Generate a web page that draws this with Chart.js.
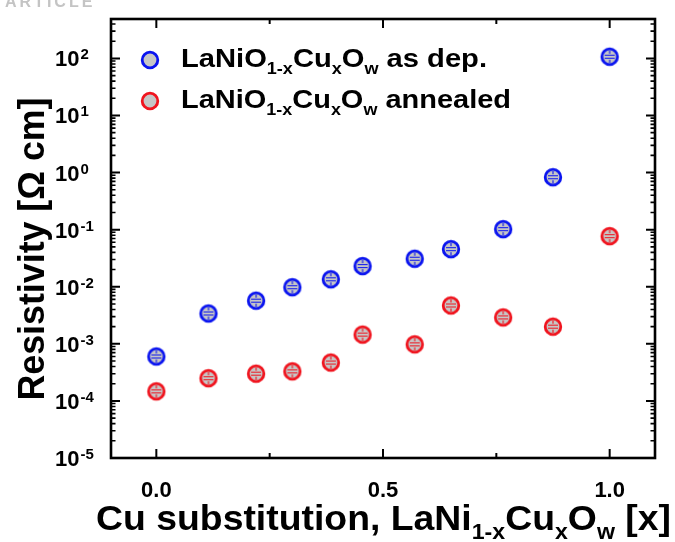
<!DOCTYPE html>
<html><head><meta charset="utf-8">
<script src="https://cdn.jsdelivr.net/npm/chart.js@4/dist/chart.umd.min.js"></script>
<style>html,body{margin:0;padding:0;background:#fff;}#wrap{width:675px;height:542px;position:relative;}</style>
</head><body><div id="wrap"><canvas id="c" width="675" height="542"></canvas></div>
<script>
// ---- data ----
const cuFraction      = [0, 0.115, 0.22, 0.30, 0.385, 0.455, 0.57, 0.65, 0.765, 0.875, 1.0];
const rhoAsDeposited  = [6.0e-4, 3.4e-3, 5.7e-3, 9.8e-3, 1.35e-2, 2.3e-2, 3.1e-2, 4.55e-2, 0.102, 0.83, 107];
const rhoAnnealed     = [1.47e-4, 2.5e-4, 3.0e-4, 3.3e-4, 4.7e-4, 1.45e-3, 9.8e-4, 4.7e-3, 2.9e-3, 2.0e-3, 7.7e-2];
const seriesSuffix    = [' as dep.', ' annealed'];
const yTickExponents  = [2, 1, 0, -1, -2, -3, -4, -5];
const xMajorTicks     = [0, 0.5, 1.0];
const xTickLabels     = ['0.0', '0.5', '1.0'];
const xMinorTicks     = [0.25, 0.75];

const BLUE = '#0a14f0', RED = '#f0141e', FILL = '#c6c6c6';
const FONT = '"Liberation Sans", Arial, sans-serif';

function makeMarker(color) {
  const c = document.createElement('canvas');
  c.width = 24; c.height = 24;
  const g = c.getContext('2d');
  g.beginPath(); g.arc(12, 12, 7.8, 0, Math.PI * 2);
  g.fillStyle = FILL; g.fill();
  g.lineWidth = 2.8; g.strokeStyle = color; g.stroke();
  g.lineWidth = 1.1;
  g.beginPath();
  g.moveTo(7, 10.5); g.lineTo(17, 10.5);
  g.moveTo(7, 13.5); g.lineTo(17, 13.5);
  g.moveTo(12, 6); g.lineTo(12, 9);
  g.moveTo(12, 15); g.lineTo(12, 18);
  g.stroke();
  return c;
}

// rich text: segs = [[text, 'n'|'sub'|'sup'], ...]
function richWidth(ctx, segs, size, subScale) {
  let w = 0;
  for (const [t, k] of segs) {
    ctx.font = 'bold ' + (k === 'n' ? size : size * subScale) + 'px ' + FONT;
    w += ctx.measureText(t).width;
  }
  return w;
}
function drawRich(ctx, segs, x, y, size, opts) {
  const subScale = opts.subScale || 0.62;
  const nat = richWidth(ctx, segs, size, subScale);
  const sx = opts.width ? opts.width / nat : 1;
  ctx.save();
  ctx.translate(x, y);
  if (opts.rotate) ctx.rotate(opts.rotate);
  ctx.scale(sx, 1);
  let cx = opts.center ? -nat / 2 : 0;
  ctx.textBaseline = 'alphabetic'; ctx.textAlign = 'left';
  ctx.fillStyle = '#000';
  for (const [t, k] of segs) {
    const s = k === 'n' ? size : size * subScale;
    ctx.font = 'bold ' + s + 'px ' + FONT;
    const dy = k === 'sub' ? size * (opts.subDrop || 0.27) : (k === 'sup' ? -size * 0.45 : 0);
    ctx.fillText(t, cx, dy);
    cx += ctx.measureText(t).width;
  }
  ctx.restore();
}

const decor = {
  id: 'decor',
  afterDraw(chart) {
    const ctx = chart.ctx;
    const a = chart.chartArea;
    const xs = chart.scales.x, ys = chart.scales.y;
    ctx.save();
    ctx.strokeStyle = '#000';
    // ticks
    ctx.lineWidth = 2;
    ctx.beginPath();
    for (const v of xMajorTicks) {
      const px = xs.getPixelForValue(v);
      ctx.moveTo(px, a.bottom); ctx.lineTo(px, a.bottom - 9);
      ctx.moveTo(px, a.top); ctx.lineTo(px, a.top + 9);
    }
    for (const v of xMinorTicks) {
      const px = xs.getPixelForValue(v);
      ctx.moveTo(px, a.bottom); ctx.lineTo(px, a.bottom - 5);
      ctx.moveTo(px, a.top); ctx.lineTo(px, a.top + 5);
    }
    for (const e of yTickExponents) {
      const py = ys.getPixelForValue(Math.pow(10, e));
      ctx.moveTo(a.left, py); ctx.lineTo(a.left + 9, py);
      ctx.moveTo(a.right, py); ctx.lineTo(a.right - 9, py);
    }
    ctx.stroke();
    ctx.lineWidth = 1.6;
    ctx.beginPath();
    for (let e = -5; e <= 2; e++) {
      for (let m = 2; m <= 9; m++) {
        const v = m * Math.pow(10, e);
        if (v > ys.max) continue;
        const py = ys.getPixelForValue(v);
        ctx.moveTo(a.left, py); ctx.lineTo(a.left + 4.5, py);
        ctx.moveTo(a.right, py); ctx.lineTo(a.right - 4.5, py);
      }
    }
    ctx.stroke();
    // frame
    ctx.lineWidth = 2.6;
    ctx.strokeRect(a.left, a.top, a.right - a.left, a.bottom - a.top);

    // y tick labels
    ctx.fillStyle = '#000';
    ctx.textAlign = 'left'; ctx.textBaseline = 'alphabetic';
    for (const e of yTickExponents) {
      const py = ys.getPixelForValue(Math.pow(10, e));
      ctx.font = 'bold 22px ' + FONT;
      ctx.fillText('10', 55, py + 8);
      const w = ctx.measureText('10').width;
      ctx.font = 'bold 15px ' + FONT;
      ctx.fillText(e < 0 ? '-' + (-e) : String(e), 55 + w + 1, py + 1);
    }
    // x tick labels
    ctx.textAlign = 'center';
    ctx.font = 'bold 22px ' + FONT;
    xMajorTicks.forEach((v, i) => {
      ctx.fillText(xTickLabels[i], xs.getPixelForValue(v), 497);
    });

    // axis titles
    drawRich(ctx, [['Cu substitution, LaNi', 'n'], ['1-x', 'sub'], ['Cu', 'n'], ['x', 'sub'], ['O', 'n'], ['w', 'sub'], [' [x]', 'n']],
      96, 530, 35, { width: 575, subDrop: 0.27 });
    drawRich(ctx, [['Resistivity [\u03A9 cm]', 'n']], 44, 249, 36, { width: 303, rotate: -Math.PI / 2, center: true });

    // legend
    const rows = [[BLUE, 60, 67, 306], [RED, 101, 108, 330]];
    rows.forEach(([col, my, by, w], i) => {
      ctx.beginPath(); ctx.arc(150, my, 7.8, 0, Math.PI * 2);
      ctx.fillStyle = FILL; ctx.fill();
      ctx.lineWidth = 2.8; ctx.strokeStyle = col; ctx.stroke();
      drawRich(ctx, [['LaNiO', 'n'], ['1-x', 'sub'], ['Cu', 'n'], ['x', 'sub'], ['O', 'n'], ['w', 'sub'], [seriesSuffix[i], 'n']],
        181, by, 26, { width: w, subDrop: 0.27 });
    });

    // faint page header remnant
    ctx.fillStyle = '#c4c4c4';
    ctx.textAlign = 'left';
    ctx.font = 'bold 16px ' + FONT;
    if ('letterSpacing' in ctx) ctx.letterSpacing = '3px';
    ctx.fillText('ARTICLE', 5, 7);
    ctx.restore();
  }
};

const blueMarker = makeMarker(BLUE);
const redMarker = makeMarker(RED);

new Chart(document.getElementById('c'), {
  type: 'scatter',
  data: {
    datasets: [
      { label: 'LaNiO1-xCuxOw as dep.', data: cuFraction.map((x, i) => ({ x, y: rhoAsDeposited[i] })),
        pointStyle: blueMarker, pointRadius: 9, borderColor: BLUE, backgroundColor: FILL },
      { label: 'LaNiO1-xCuxOw annealed', data: cuFraction.map((x, i) => ({ x, y: rhoAnnealed[i] })),
        pointStyle: redMarker, pointRadius: 9, borderColor: RED, backgroundColor: FILL }
    ]
  },
  options: {
    responsive: false,
    animation: false,
    devicePixelRatio: 1,
    layout: { padding: { left: 111, top: 19, right: 20, bottom: 84 } },
    plugins: { legend: { display: false }, tooltip: { enabled: false } },
    scales: {
      x: { type: 'linear', min: -0.1, max: 1.1,
           ticks: { display: false }, grid: { display: false, drawTicks: false, tickLength: 0 },
           border: { display: false }, title: { display: false } },
      y: { type: 'logarithmic', min: 1e-5, max: 490,
           ticks: { display: false }, grid: { display: false, drawTicks: false, tickLength: 0 },
           border: { display: false }, title: { display: false } }
    }
  },
  plugins: [decor]
});
</script></body></html>
